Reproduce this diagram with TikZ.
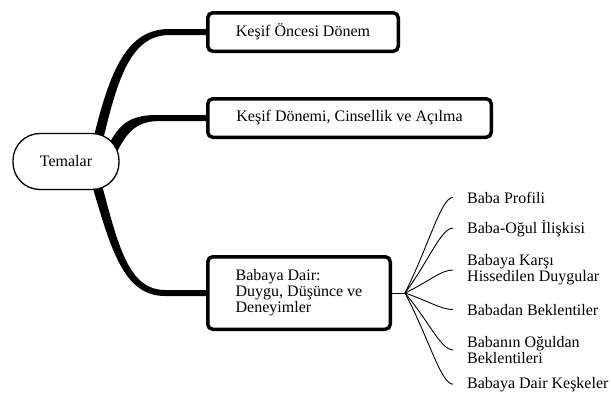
\documentclass[tikz,border=0pt]{standalone}
\usepackage{fontspec}
\setmainfont{LiberationSerif}[Extension=.ttf, UprightFont=*-Regular, BoldFont=*-Bold, ItalicFont=*-Italic, BoldItalicFont=*-BoldItalic]
\usetikzlibrary{calc,shadows,backgrounds}
\begin{document}
\begin{tikzpicture}[x=1pt,y=-1pt,
  every node/.style={font=\rmfamily\fontsize{16}{16}\selectfont},
  topic/.style={draw, line width=3.5pt, rounded corners=5pt, fill=white, minimum height=38.5pt, inner sep=0pt},
  root/.style={draw, line width=1.3pt, rounded corners=27pt, fill=white, minimum width=106pt, minimum height=56pt,
    drop shadow={opacity=0.25, shadow xshift=0.6pt, shadow yshift=-0.8pt}},
  leaf/.style={inner sep=0pt, align=left},
  branch/.style={fill=black},
  twig/.style={line width=0.9pt}]
\useasboundingbox (0,0) rectangle (611,402);

% nodes
\node[root] (tem) at (66,161.5) {Temalar};
\node[topic, minimum width=190.5pt] (k1) at (303,32) {Keşif Öncesi Dönem};
\node[topic, minimum width=283.5pt] (k2) at (349.5,118) {Keşif Dönemi, Cinsellik ve Açılma};
\node[topic, minimum width=182.5pt, minimum height=72.5pt, align=left] (k3) at (299,293) {Babaya Dair:\\Duygu, Düşünce ve\\Deneyimler};

\node[leaf, anchor=base west] (l1) at (467,203) {Baba Profili};
\node[leaf, anchor=base west] (l2) at (467,233) {Baba-Oğul İlişkisi};
\node[leaf, anchor=west] (l3) at (467,270) {Babaya Karşı\\Hissedilen Duygular};
\node[leaf, anchor=base west] (l4) at (467,315) {Babadan Beklentiler};
\node[leaf, anchor=west] (l5) at (467,350) {Babanın Oğuldan\\Beklentileri};
\node[leaf, anchor=base west] (l6) at (467,388) {Babaya Dair Keşkeler};

% thick tapered branches
\begin{scope}[on background layer]
\fill[branch] (93,140) .. controls (110,70) and (127,28.5) .. (170,29)
  -- ($(k1.west)+(0,-3)$) -- ($(k1.west)+(0,3)$) -- (170,35)
  .. controls (133,35) and (119,72) .. (103,140) -- cycle;
\fill[branch] (108,146) .. controls (120,122) and (132,114.5) .. (160,115)
  -- ($(k2.west)+(0,-3)$) -- ($(k2.west)+(0,3)$) -- (160,121)
  .. controls (138,121) and (128,130) .. (117,152) -- cycle;
\fill[branch] (92,185) .. controls (111,250) and (124,296) .. (165,296)
  -- ($(k3.west)+(0,3)$) -- ($(k3.west)+(0,-3)$) -- (165,290)
  .. controls (130,290) and (119,250) .. (102,185) -- cycle;
\end{scope}

% fan of thin connectors
\coordinate (hub) at (405,293);
\draw[twig] (k3.east) -- (hub);
\foreach \l in {l1,l2,l3,l4,l5,l6}{
  \coordinate (e-\l) at ($(\l.west)+(-14,0)$);
  \draw[twig] (hub) .. controls ($(hub)!0.5!(e-\l)$) and ($(e-\l)+(-12,0)$) .. (e-\l);
}
\end{tikzpicture}
\end{document}
